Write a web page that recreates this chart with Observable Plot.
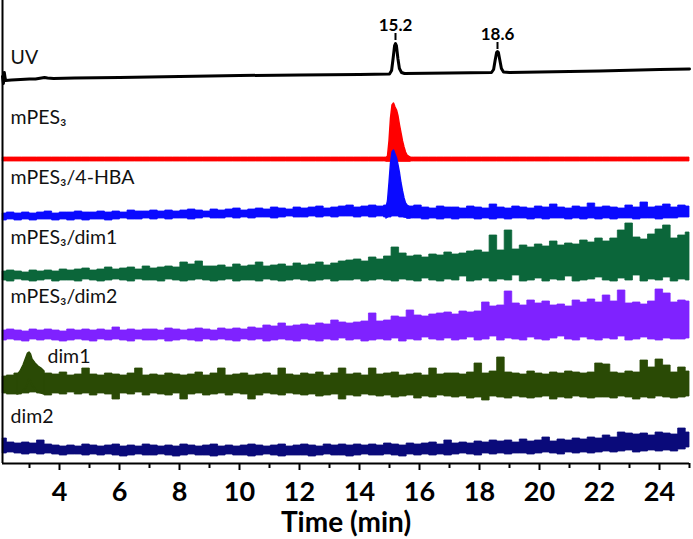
<!DOCTYPE html>
<html><head><meta charset="utf-8">
<script src="https://cdn.jsdelivr.net/npm/d3@7"></script>
<script src="https://cdn.jsdelivr.net/npm/@observablehq/plot@0.6"></script>
<style>
html,body{margin:0;padding:0;background:#fff;}
#chart svg{display:block;}
g[aria-label="x-axis tick label"] text{font-weight:bold;}
</style></head><body><div id="chart"></div>
<script>
// ---- x axis ticks ----
const majorTicks = [4, 6, 8, 10, 12, 14, 16, 18, 20, 22, 24];
const minorTicks = [3, 5, 7, 9, 11, 13, 15, 17, 19, 21, 23, 25];
const axisLabel = "Time (min)";

// ---- trace labels ----
const seriesNames = ["UV", "mPES₃", "mPES₃/4-HBA", "mPES₃/dim1", "mPES₃/dim2", "dim1", "dim2"];
const seriesColors = ["#000000", "#ff0000", "#0a0aff", "#0b663a", "#7f22ff", "#2a4a05", "#0a0a7a"];
const labelTimes = [2.37, 2.37, 2.37, 2.37, 2.37, 3.6, 2.37];
const labelHeights = [400, 340, 280, 220, 161, 101, 41];

// ---- peak annotations on UV ----
const peakTimes = [15.2, 18.6];
const peakHeights = [421, 412];
const peakLabels = ["15.2", "18.6"];

// ---- UV trace (smooth) ----
const uvTime = [2.1, 2.13, 2.16, 2.2, 2.4, 2.7, 3.0, 3.2, 3.4, 3.5, 3.6, 3.8, 4.5, 6, 8, 10, 12, 14, 15.0, 15.07, 15.12, 15.17, 15.2, 15.23, 15.28, 15.33, 15.4, 15.5, 17, 18.4, 18.47, 18.52, 18.57, 18.6, 18.63, 18.68, 18.73, 18.8, 19, 20, 22, 24, 25];
const uvValue = [387, 380, 391, 383, 383.5, 384, 384.5, 384.5, 385.5, 386, 385.5, 385, 385.5, 386, 387, 388, 388.5, 389, 389.5, 393, 405, 418, 420, 418, 405, 395, 391, 390, 390.5, 391, 394, 403, 411, 412, 411, 403, 395, 391.5, 391, 391.5, 392.5, 394, 394.5];

// ---- noisy traces: upper / lower envelopes on a regular time grid (92 samples, 2.12 to 25 min) ----
const redTop = [
306,306,306,306,306,306,306,306,306,306, 306,306,306,306,306,306,306,306,306,306,
306,306,306,306,306,306,306,306,306,306, 306,306,306,306,306,306,306,306,306,306,
306,306,306,306,306,306,306,306,306,306, 306,306,306,306,306,306,306,306,306,306,
306,306,306,306,306,306,306,306,306,306, 306,306,306,306,306,306,306,306,306,306,
306,306,306,306,306,306,306,306,306,306, 306,306];
const redBot = [
302,302,302,302,302,302,302,302,302,302, 302,302,302,302,302,302,302,302,302,302,
302,302,302,302,302,302,302,302,302,302, 302,302,302,302,302,302,302,302,302,302,
302,302,302,302,302,302,302,302,302,302, 302,302,302,302,302,302,302,302,302,302,
302,302,302,302,302,302,302,302,302,302, 302,302,302,302,302,302,302,302,302,302,
302,302,302,302,302,302,302,302,302,302, 302,302];
const blueTop = [
250,251,250,251,250,251,252,250,251,251, 252,251,251,252,251,252,251,253,252,252,
253,252,253,252,253,254,253,252,254,253, 254,255,253,254,255,254,256,255,254,256,
255,256,257,255,256,257,258,256,257,258, 257,258,257,258,257,258,256,255,257,256,
256,255,257,256,255,259,256,255,257,256, 255,257,256,259,256,255,257,256,260,256,
257,256,255,258,256,261,256,257,259,256, 258,257];
const blueBot = [
243,244,243,244,243,244,244,243,244,243, 244,243,244,244,243,244,245,244,244,245,
244,245,244,245,245,244,245,246,245,245, 246,245,246,245,246,246,245,246,247,246,
246,247,246,247,246,247,247,246,247,246, 247,246,247,246,245,245,244,245,244,245,
244,245,245,244,245,244,245,244,245,245, 244,245,244,245,245,244,245,244,245,244,
245,244,245,245,244,245,245,244,245,245, 246,246];
const greenTop = [
192,193,192,191,193,192,193,192,194,193, 194,195,193,194,196,194,195,196,194,197,
195,196,197,196,201,199,202,197,197,198, 196,199,197,198,201,197,198,199,197,200,
198,199,201,198,200,202,203,204,202,206, 204,207,216,210,207,208,206,209,208,211,
209,210,212,213,211,228,213,233,214,218, 216,219,217,222,218,220,219,223,221,225,
222,225,233,240,226,224,229,234,238,225, 228,231];
const greenBot = [
183,182,184,183,182,183,184,182,183,183, 182,184,183,182,183,184,183,182,184,183,
183,182,184,183,182,183,184,183,182,183, 184,182,183,183,182,184,183,182,183,184,
183,182,183,184,182,183,183,184,182,183, 184,183,182,184,183,182,185,183,182,184,
183,187,182,183,185,182,184,183,188,182, 183,185,182,184,183,187,182,183,184,186,
183,182,185,183,188,182,184,183,186,182, 184,183];
const purpleTop = [
133,134,133,132,134,133,134,133,132,134, 133,134,133,134,133,136,133,134,133,134,
134,133,135,134,133,134,135,134,133,135, 134,135,134,136,135,138,137,140,137,138,
139,138,140,139,143,141,140,141,142,150, 142,143,147,146,153,148,147,149,150,151,
149,152,151,152,161,157,158,172,160,158, 163,160,162,158,159,157,163,161,164,161,
168,162,173,160,161,159,162,174,170,161, 163,162];
const purpleBot = [
123,124,123,122,124,123,124,123,122,123, 124,123,122,124,123,124,123,122,124,123,
123,124,122,123,124,123,122,124,123,124, 123,122,124,123,124,122,123,124,123,122,
124,123,122,124,123,125,123,124,122,123, 124,123,125,122,124,123,126,124,123,125,
123,124,126,123,124,127,123,125,124,123, 126,124,123,125,127,124,123,126,124,123,
125,124,127,123,124,126,124,123,125,124, 124,125];
const oliveTop = [
87,88,90,90,91,90,90,89,91,88, 89,95,89,88,90,89,88,90,95,88,
89,88,90,89,88,89,91,88,90,95, 88,89,90,88,89,90,88,95,89,88,
90,89,91,88,90,95,89,90,88,95, 89,90,91,88,89,90,88,95,89,90,
90,89,91,100,90,92,106,91,90,89, 92,90,89,91,90,92,91,90,91,100,
99,91,90,92,91,103,96,104,98,91, 96,92];
const oliveBot = [
70,69,69,70,71,70,68,70,69,71, 69,70,68,70,69,64,70,69,71,68,
70,69,68,70,64,69,70,68,69,70, 68,70,69,64,68,70,69,68,70,69,
68,69,67,68,69,64,68,67,69,68, 67,68,66,67,68,65,67,66,68,67,
66,67,65,66,63,67,66,65,67,66, 65,66,67,64,66,65,67,66,65,66,
66,65,67,66,64,66,65,67,66,65, 66,67];
const navyTop = [
25,21,20,21,20,23,19,18,17,18, 17,19,18,17,18,19,17,18,17,19,
18,17,18,17,19,18,17,18,19,17, 18,17,18,19,18,17,18,19,17,18,
19,18,17,19,18,19,18,19,18,19, 18,20,19,18,20,19,20,21,19,23,
20,21,20,22,21,23,22,23,21,24, 22,23,26,22,24,23,25,24,26,25,
28,26,31,30,29,30,28,31,30,29, 35,31];
const navyBot = [
10,11,10,9,10,9,10,9,8,9, 9,8,9,8,9,8,7,8,9,8,
8,9,8,7,8,9,8,8,7,8, 9,8,8,7,8,9,8,7,8,8,
8,7,8,9,8,8,7,8,9,8, 8,9,8,7,9,8,9,8,9,8,
9,10,9,8,10,9,10,9,10,10, 9,10,11,10,9,11,10,11,10,11,
12,11,12,13,11,12,13,12,13,12, 14,16];

// ---- peaks drawn at finer time resolution ----
const peakTime15 = [14.9, 14.95, 15.0, 15.05, 15.1, 15.15, 15.2, 15.25, 15.3, 15.35, 15.4, 15.45, 15.5, 15.55, 15.6, 15.7];
const redPeakTop = [305, 307, 322, 345, 358, 360, 356, 353, 347, 338, 330, 322, 316, 311, 308, 306];
const redPeakBot = [302, 302, 302, 302, 302, 302, 302, 302, 302, 302, 302, 302, 302, 302, 302, 302];
const bluePeakTop = [256, 262, 280, 300, 311, 313, 309, 305, 298, 290, 280, 272, 265, 260, 258, 256];
const bluePeakBot = [245, 246, 247, 249, 250, 251, 251, 250, 250, 249, 248, 247, 246, 246, 245, 245];
const peakTime3 = [2.6, 2.7, 2.8, 2.9, 2.95, 3.0, 3.05, 3.1, 3.2, 3.3, 3.4, 3.5];
const olivePeakTop = [88, 92, 98, 106, 110, 111, 109, 104, 100, 97, 95, 92];
const olivePeakBot = [69, 70, 72, 76, 80, 84, 82, 78, 74, 71, 70, 69];

// ---- build tables ----
const N = 92;
const grid = d3.range(N).map(i => 2.12 + i * (25 - 2.12) / (N - 1));
const band = (times, top, bot) => times.map((t, i) => ({t, top: top[i], bot: bot[i]}));
const bands = [
  {data: band(grid, redTop, redBot), color: seriesColors[1]},
  {data: band(grid, blueTop, blueBot), color: seriesColors[2]},
  {data: band(grid, greenTop, greenBot), color: seriesColors[3]},
  {data: band(grid, purpleTop, purpleBot), color: seriesColors[4]},
  {data: band(grid, oliveTop, oliveBot), color: seriesColors[5]},
  {data: band(grid, navyTop, navyBot), color: seriesColors[6]}
];
const peakBands = [
  {data: band(peakTime15, redPeakTop, redPeakBot), color: seriesColors[1]},
  {data: band(peakTime15, bluePeakTop, bluePeakBot), color: seriesColors[2]},
  {data: band(peakTime3, olivePeakTop, olivePeakBot), color: seriesColors[5]}
];
const uv = uvTime.map((t, i) => ({t, v: uvValue[i]}));
const labels = seriesNames.map((name, i) => ({name, t: labelTimes[i], h: labelHeights[i]}));
const peaks = peakTimes.map((t, i) => ({t, h: peakHeights[i], label: peakLabels[i]}));

const chart = Plot.plot({
  width: 693, height: 539,
  marginLeft: 2, marginRight: 4, marginTop: 0, marginBottom: 76,
  x: {domain: [2.1, 25], axis: null},
  y: {domain: [0, 463], axis: null},
  style: {fontFamily: "Lato", background: "#fff", color: "#000"},
  marks: [
    ...bands.map(b => Plot.areaY(b.data, {x: "t", y1: "bot", y2: "top", fill: b.color, stroke: b.color, strokeWidth: 0.8, curve: "step"})),
    ...peakBands.map(b => Plot.areaY(b.data, {x: "t", y1: "bot", y2: "top", fill: b.color, stroke: b.color, strokeWidth: 1.5, curve: "linear"})),
    Plot.line(uv, {x: "t", y: "v", stroke: seriesColors[0], strokeWidth: 3, curve: "linear"}),
    Plot.ruleX([2.1], {stroke: "#000", strokeWidth: 2}),
    Plot.ruleY([0], {stroke: "#000", strokeWidth: 2}),
    Plot.axisX(majorTicks, {anchor: "bottom", tickSize: 7, tickPadding: 11, strokeWidth: 2, tickFormat: d => String(d), fontSize: 27, fontWeight: "bold", label: null}),
    Plot.axisX(minorTicks, {anchor: "bottom", tickSize: 5, strokeWidth: 2, tickFormat: () => "", label: null}),
    Plot.text([axisLabel], {frameAnchor: "bottom", lineAnchor: "bottom", dy: 68, fontSize: 28, fontWeight: "bold", fill: "#000"}),
    Plot.text(labels, {x: "t", y: "h", text: "name", textAnchor: "start", lineAnchor: "bottom", fontSize: 19.5, fill: "#111"}),
    Plot.ruleX(peaks, {x: "t", y1: d => d.h + 2, y2: d => d.h + 9, stroke: "#000", strokeWidth: 2}),
    Plot.text(peaks, {x: "t", y: d => d.h + 12, text: "label", lineAnchor: "bottom", fontSize: 17, fontWeight: "bold", fill: "#000"})
  ]
});
document.getElementById("chart").appendChild(chart);
</script></body></html>
